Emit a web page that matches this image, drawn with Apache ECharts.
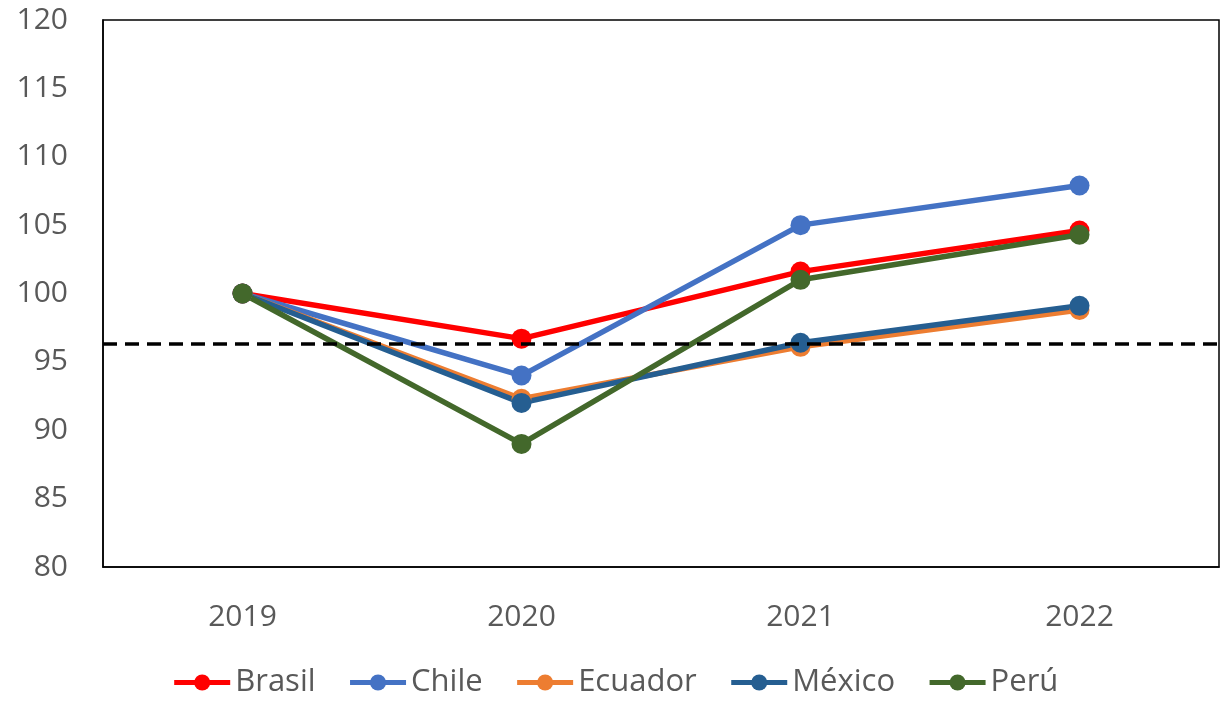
<!DOCTYPE html>
<html>
<head>
<meta charset="utf-8">
<script src="https://cdn.jsdelivr.net/npm/echarts@6/dist/echarts.min.js"></script>
<style>
  html, body { margin: 0; padding: 0; background: #fff; }
  #chart { width: 1230px; height: 703px; }
</style>
</head>
<body>
<div id="chart"></div>
<script>
var years = ['2019', '2020', '2021', '2022'];
var brasil = [100, 96.7, 101.6, 104.6];
var chile = [100, 94.0, 105.0, 107.9];
var ecuador = [100, 92.3, 96.1, 98.8];
var mexico = [100, 92.0, 96.4, 99.1];
var peru = [100, 89.0, 101.0, 104.3];
var refLevel = 96.3;

var chart = echarts.init(document.getElementById('chart'));

function line(name, data, color) {
  return {
    name: name,
    type: 'line',
    data: data,
    symbol: 'circle',
    symbolSize: 20,
    lineStyle: { width: 5.5, color: color },
    itemStyle: { color: color },
    emphasis: { disabled: true }
  };
}

var series = [
  line('Brasil', brasil, '#FF0000'),
  line('Chile', chile, '#4472C4'),
  line('Ecuador', ecuador, '#ED7D31'),
  line('México', mexico, '#255E91'),
  line('Perú', peru, '#43682B')
];
// linea de referencia punteada
series[0].markLine = {
  silent: true,
  symbol: 'none',
  label: { show: false },
  lineStyle: { color: '#000', type: [14, 8], width: 3.5 },
  data: [{ yAxis: refLevel }]
};

var option = {
  animation: false,
  textStyle: { fontFamily: 'Open Sans' },
  grid: {
    left: 103, right: 11, top: 20, bottom: 136,
    show: true, borderColor: '#000', borderWidth: 1.5
  },
  legend: {
    top: 662,
    left: 'center',
    itemWidth: 56,
    itemHeight: 20,
    itemGap: 32,
    lineStyle: { width: 5 },
    textStyle: { fontSize: 31, color: '#595959', fontFamily: 'Open Sans' },
    data: ['Brasil', 'Chile', 'Ecuador', 'México', 'Perú']
  },
  xAxis: {
    type: 'category',
    data: years,
    boundaryGap: true,
    axisLine: { show: true, lineStyle: { color: '#000', width: 1.5 } },
    axisTick: { show: false },
    axisLabel: { fontSize: 30, color: '#595959', margin: 35 }
  },
  yAxis: {
    type: 'value',
    min: 80,
    max: 120,
    interval: 5,
    axisLine: { show: true, lineStyle: { color: '#000', width: 1.5 } },
    axisTick: { show: false },
    splitLine: { show: false },
    axisLabel: { fontSize: 30, color: '#595959', margin: 35 }
  },
  series: series
};

chart.setOption(option);
</script>
</body>
</html>
